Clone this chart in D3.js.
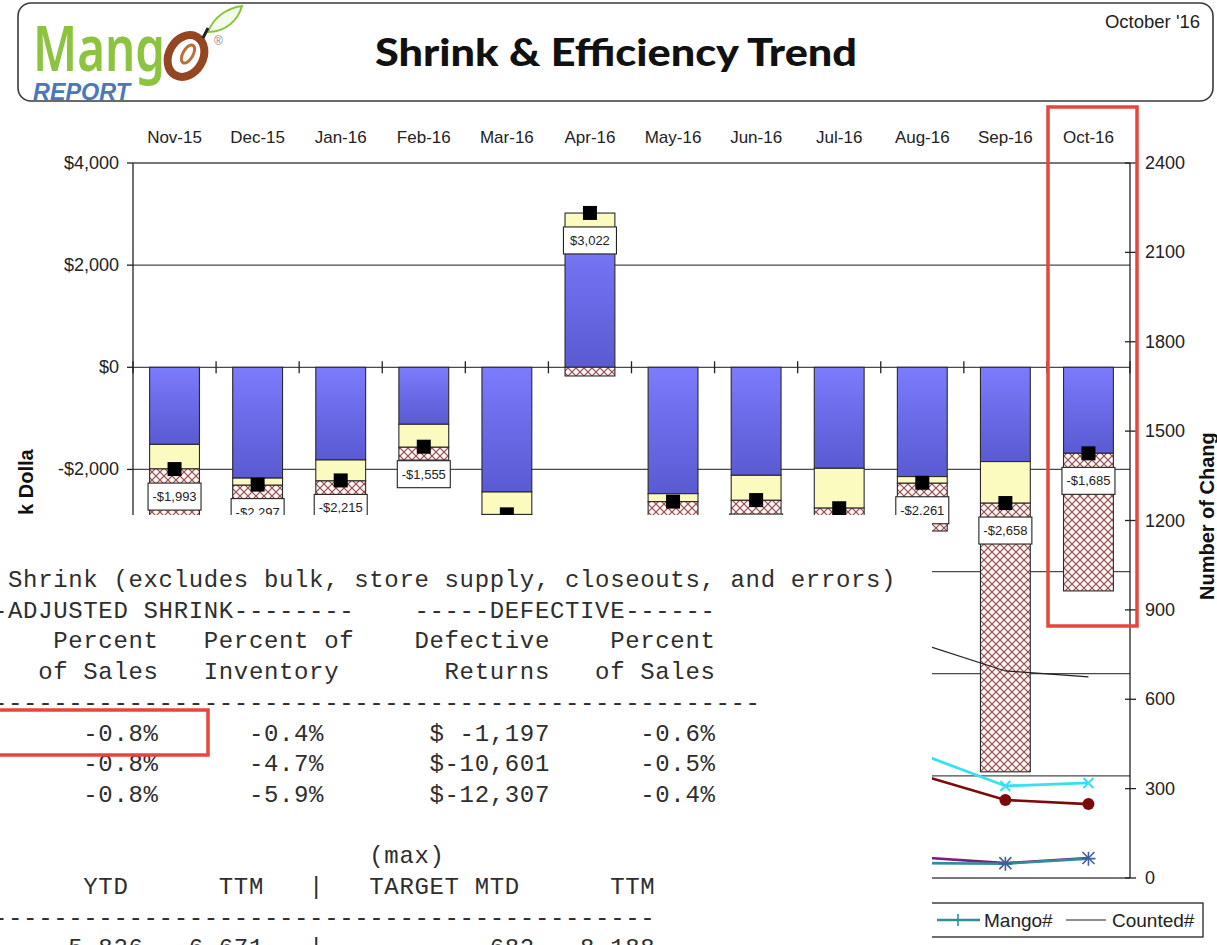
<!DOCTYPE html>
<html>
<head>
<meta charset="utf-8">
<style>
  body { margin: 0; background: #fff; }
  svg { display: block; font-family: Arial, "Liberation Sans", sans-serif; }
</style>
</head>
<body>
<svg width="1217" height="945"></svg>
<script src="https://d3js.org/d3.v7.min.js"></script>
<script>
// ---- data ----
var months = ["Nov-15", "Dec-15", "Jan-16", "Feb-16", "Mar-16", "Apr-16",
              "May-16", "Jun-16", "Jul-16", "Aug-16", "Sep-16", "Oct-16"];

// stacked shrink dollars (left axis)
var blueVals   = [-1510, -2170, -1815, -1116, -2442, 2720, -2475, -2115, -1978, -2140, -1846, -1684];
var yellowVals = [-480, -140, -410, -450, -440, 300, -155, -490, -780, -131, -815, 0];
var hatchVals  = [-1400, -1200, -1100, -250, -1500, -170, -1300, -1200, -1000, -935, -5260, -2695];
var netVals    = [-1993, -2297, -2215, -1555, -2880, 3022, -2630, -2600, -2760, -2261, -2658, -1685];

// counts (right axis)
var countedNum = [905, 890, 870, 860, 850, 840, 830, 815, 800, 785, 695, 675];
var cyanNum    = [520, 505, 490, 480, 470, 460, 450, 440, 425, 414, 309, 319];
var redNum     = [420, 410, 400, 395, 390, 380, 370, 362, 352, 344, 262, 248];
var purpleNum  = [95, 90, 88, 85, 82, 80, 78, 75, 72, 69, 50, 67];
var mangoNum   = [70, 68, 66, 64, 62, 60, 58, 56, 53, 50, 48, 65];

var leftTicks  = [4000, 2000, 0, -2000, -4000, -6000, -8000, -10000];
var rightTicks = [0, 300, 600, 900, 1200, 1500, 1800, 2100, 2400];

var reportLines = [
  " Shrink (excludes bulk, store supply, closeouts, and errors)",
  "-ADJUSTED SHRINK--------    -----DEFECTIVE------",
  "    Percent   Percent of    Defective    Percent",
  "   of Sales   Inventory       Returns   of Sales",
  "---------------------------------------------------",
  "      -0.8%      -0.4%       $ -1,197      -0.6%",
  "      -0.8%      -4.7%       $-10,601      -0.5%",
  "      -0.8%      -5.9%       $-12,307      -0.4%",
  "",
  "                         (max)",
  "      YTD      TTM   |   TARGET MTD      TTM",
  "--------------------------------------------",
  "     5,826   6,671   |           682   8,188"
];

// ---- setup ----
var svg = d3.select("svg");
var defs = svg.append("defs");

var fmt = d3.formatLocale({decimal: ".", thousands: ",", grouping: [3], currency: ["$", ""], minus: "-"}).format("$,.0f");

var x = d3.scaleBand().domain(months).range([133, 1130]).paddingInner(0.4).paddingOuter(0.2);
var yL = d3.scaleLinear().domain([-10000, 4000]).range([878, 163]);
var yR = d3.scaleLinear().domain([0, 2400]).range([878, 163]);
var step = x.step();

var blueGrad = defs.append("linearGradient").attr("id", "blueGrad")
  .attr("x1", 0).attr("y1", 0).attr("x2", 0).attr("y2", 1);
blueGrad.append("stop").attr("offset", "0%").attr("stop-color", "#7b7bfd");
blueGrad.append("stop").attr("offset", "100%").attr("stop-color", "#5a5ad2");

var hatch = defs.append("pattern").attr("id", "hatch")
  .attr("width", 8).attr("height", 8).attr("patternUnits", "userSpaceOnUse");
hatch.append("rect").attr("width", 8).attr("height", 8).attr("fill", "#fff3f3");
hatch.append("path").attr("d", "M-1,-1L9,9M9,-1L-1,9")
  .attr("stroke", "#8e4a4a").attr("stroke-width", 1.1);

defs.append("clipPath").attr("id", "clipL").append("rect")
  .attr("x", 0).attr("y", 449).attr("width", 60).attr("height", 500);
defs.append("clipPath").attr("id", "clipR").append("rect")
  .attr("x", 1180).attr("y", 432).attr("width", 40).attr("height", 300);

// ---- header ----
svg.append("rect").attr("x", 18).attr("y", 3).attr("width", 1195).attr("height", 98)
  .attr("rx", 13).attr("fill", "#fff").attr("stroke", "#3a3a3a").attr("stroke-width", 1.6);

var logo = svg.append("g");
logo.append("text").attr("x", 33).attr("y", 71).text("Mang")
  .attr("font-family", "Noto Sans").attr("font-weight", 600).attr("font-size", 64)
  .attr("textLength", 132).attr("lengthAdjust", "spacingAndGlyphs")
  .attr("fill", "#8cc43f");
logo.append("ellipse").attr("cx", 186).attr("cy", 56).attr("rx", 17).attr("ry", 22)
  .attr("transform", "rotate(30,186,56)")
  .attr("fill", "none").attr("stroke", "#93461f").attr("stroke-width", 8);
logo.append("ellipse").attr("cx", 188).attr("cy", 54).attr("rx", 5).attr("ry", 10)
  .attr("transform", "rotate(30,188,54)")
  .attr("fill", "none").attr("stroke", "#b8703c").attr("stroke-width", 3);
logo.append("path").attr("d", "M208,32 C214,16 228,8 242,6 C238,20 226,32 208,32 Z")
  .attr("fill", "#f3faea").attr("stroke", "#8cc43f").attr("stroke-width", 2);
logo.append("path").attr("d", "M203,38 L208,28").attr("stroke", "#222").attr("stroke-width", 3);
logo.append("text").attr("x", 214).attr("y", 45).text("®")
  .attr("font-size", 12).attr("fill", "#888");
logo.append("text").attr("x", 33).attr("y", 100).text("REPORT")
  .attr("font-size", 23).attr("font-weight", "bold").attr("font-style", "italic")
  .attr("textLength", 97).attr("lengthAdjust", "spacingAndGlyphs")
  .attr("fill", "#4a78b8");

svg.append("text").attr("x", 375).attr("y", 66).text("Shrink & Efficiency Trend")
  .attr("font-family", "Lato").attr("font-weight", 900).attr("font-size", 38)
  .attr("textLength", 482).attr("lengthAdjust", "spacingAndGlyphs").attr("fill", "#111");

svg.append("text").attr("x", 1200).attr("y", 28).attr("text-anchor", "end")
  .text("October '16").attr("font-size", 18.5).attr("fill", "#222");

// ---- plot ----
var plot = svg.append("g");

plot.selectAll(".grid").data(leftTicks).enter().append("line")
  .attr("x1", 133).attr("x2", 1130)
  .attr("y1", function(d) { return yL(d); }).attr("y2", function(d) { return yL(d); })
  .attr("stroke", "#4a4a4a").attr("stroke-width", 1.3);

// category ticks on the $0 line
plot.selectAll(".ctick").data(d3.range(months.length + 1)).enter().append("line")
  .attr("x1", function(i) { return 133 + i * step; }).attr("x2", function(i) { return 133 + i * step; })
  .attr("y1", yL(0) - 6).attr("y2", yL(0) + 6)
  .attr("stroke", "#222").attr("stroke-width", 1.3);

// axes
plot.append("line").attr("x1", 133).attr("x2", 133).attr("y1", 163).attr("y2", 878)
  .attr("stroke", "#222").attr("stroke-width", 1.3);
plot.append("line").attr("x1", 1130).attr("x2", 1130).attr("y1", 163).attr("y2", 878)
  .attr("stroke", "#222").attr("stroke-width", 1.3);

plot.selectAll(".ltick").data(leftTicks).enter().append("line")
  .attr("x1", 127).attr("x2", 133)
  .attr("y1", function(d) { return yL(d); }).attr("y2", function(d) { return yL(d); })
  .attr("stroke", "#222").attr("stroke-width", 1.3);
plot.selectAll(".llab").data(leftTicks).enter().append("text")
  .attr("x", 119).attr("y", function(d) { return yL(d) + 6; })
  .attr("text-anchor", "end").attr("font-size", 18).attr("fill", "#222")
  .text(function(d) { return fmt(d); });

plot.selectAll(".rtick").data(rightTicks).enter().append("line")
  .attr("x1", 1125).attr("x2", 1136)
  .attr("y1", function(d) { return yR(d); }).attr("y2", function(d) { return yR(d); })
  .attr("stroke", "#222").attr("stroke-width", 1.3);
plot.selectAll(".rlab").data(rightTicks).enter().append("text")
  .attr("x", 1145).attr("y", function(d) { return yR(d) + 6; })
  .attr("font-size", 18).attr("fill", "#222")
  .text(function(d) { return d; });

plot.selectAll(".cat").data(months).enter().append("text")
  .attr("x", function(d) { return x(d) + x.bandwidth() / 2; }).attr("y", 143)
  .attr("text-anchor", "middle").attr("font-size", 17).attr("fill", "#222")
  .text(function(d) { return d; });

// stacked bars
var stacks = months.map(function(m, i) {
  var pos = 0, neg = 0, segs = [];
  [["blue", blueVals[i]], ["yellow", yellowVals[i]], ["hatch", hatchVals[i]]].forEach(function(p) {
    var v = p[1];
    if (v === 0) return;
    if (v > 0) { segs.push({k: p[0], a: pos, b: pos + v}); pos += v; }
    else { segs.push({k: p[0], a: neg, b: neg + v}); neg += v; }
  });
  return {m: m, segs: segs};
});
var fills = {blue: "url(#blueGrad)", yellow: "#fbfbbf", hatch: "url(#hatch)"};

var barG = plot.selectAll(".bar").data(stacks).enter().append("g");
barG.selectAll("rect").data(function(d) { return d.segs.map(function(s) { s.m = d.m; return s; }); })
  .enter().append("rect")
  .attr("x", function(s) { return x(s.m); })
  .attr("width", x.bandwidth())
  .attr("y", function(s) { return Math.min(yL(s.a), yL(s.b)); })
  .attr("height", function(s) { return Math.abs(yL(s.a) - yL(s.b)); })
  .attr("fill", function(s) { return fills[s.k]; })
  .attr("stroke", "#2a2a2a").attr("stroke-width", 1.1);

// count lines (right axis)
function cx(i) { return x(months[i]) + x.bandwidth() / 2; }
function drawLine(vals, color, width) {
  var line = d3.line()
    .x(function(d, i) { return cx(i); })
    .y(function(d) { return yR(d); });
  plot.append("path").datum(vals).attr("d", line)
    .attr("fill", "none").attr("stroke", color).attr("stroke-width", width);
}
drawLine(countedNum, "#222", 1.2);
drawLine(redNum, "#7d0a0a", 2.6);
drawLine(cyanNum, "#36e0f2", 2.8);
drawLine(purpleNum, "#7d1a86", 2.6);
drawLine(mangoNum, "#2f8e9a", 2.6);

plot.selectAll(".rdot").data(redNum).enter().append("circle")
  .attr("cx", function(d, i) { return cx(i); }).attr("cy", function(d) { return yR(d); })
  .attr("r", 6).attr("fill", "#7d0a0a");
plot.selectAll(".cx").data(cyanNum).enter().append("path")
  .attr("transform", function(d, i) { return "translate(" + cx(i) + "," + yR(d) + ")"; })
  .attr("d", "M-5,-5L5,5M5,-5L-5,5").attr("stroke", "#36e0f2").attr("stroke-width", 2);
plot.selectAll(".px").data(purpleNum).enter().append("path")
  .attr("transform", function(d, i) { return "translate(" + cx(i) + "," + yR(d) + ")"; })
  .attr("d", "M-6,-6L6,6M6,-6L-6,6").attr("stroke", "#3e5f9a").attr("stroke-width", 1.6);
plot.selectAll(".mx").data(mangoNum).enter().append("path")
  .attr("transform", function(d, i) { return "translate(" + cx(i) + "," + yR(d) + ")"; })
  .attr("d", "M-7,0L7,0M0,-7L0,7").attr("stroke", "#3e5f9a").attr("stroke-width", 1.6);

// net markers and labels
plot.selectAll(".net").data(netVals).enter().append("rect")
  .attr("x", function(d, i) { return cx(i) - 7; })
  .attr("y", function(d) { return yL(d) - 7; })
  .attr("width", 14).attr("height", 14).attr("fill", "#000");
var lab = plot.selectAll(".lab").data(netVals).enter().append("g")
  .attr("transform", function(d, i) { return "translate(" + cx(i) + "," + (yL(d) + 14) + ")"; });
lab.append("rect").attr("x", -26.5).attr("y", 0).attr("width", 53).attr("height", 27)
  .attr("fill", "#fff").attr("stroke", "#222").attr("stroke-width", 1.1);
lab.append("text").attr("y", 18).attr("text-anchor", "middle")
  .attr("font-size", 13).attr("fill", "#222")
  .text(function(d) { return fmt(d); });

// axis titles (clipped as in the picture)
svg.append("g").attr("clip-path", "url(#clipL)")
  .append("text")
  .attr("transform", "translate(33,566) rotate(-90)")
  .attr("font-size", 20).attr("font-weight", "bold").attr("fill", "#111")
  .text("Shrink Dollars");
svg.append("g").attr("clip-path", "url(#clipR)")
  .append("text")
  .attr("transform", "translate(1214,600) rotate(-90)")
  .attr("font-size", 20).attr("font-weight", "bold").attr("fill", "#111")
  .text("Number of Changes");

// legend
var leg = svg.append("g");
leg.append("rect").attr("x", 700).attr("y", 903).attr("width", 503).attr("height", 34)
  .attr("fill", "#fff").attr("stroke", "#222").attr("stroke-width", 1.3);
leg.append("line").attr("x1", 937).attr("x2", 980).attr("y1", 920).attr("y2", 920)
  .attr("stroke", "#2f8e9a").attr("stroke-width", 2.4);
leg.append("path").attr("d", "M958,914L958,926").attr("stroke", "#2f8e9a").attr("stroke-width", 1.6);
leg.append("text").attr("x", 984).attr("y", 927).attr("font-size", 19).attr("fill", "#222").text("Mango#");
leg.append("line").attr("x1", 1066).attr("x2", 1106).attr("y1", 920).attr("y2", 920)
  .attr("stroke", "#222").attr("stroke-width", 1.2);
leg.append("text").attr("x", 1112).attr("y", 927).attr("font-size", 19).attr("fill", "#222").text("Counted#");

// ---- report text overlay ----
var over = svg.append("g");
over.append("rect").attr("x", 0).attr("y", 515).attr("width", 932).attr("height", 430).attr("fill", "#fff");
over.selectAll("text").data(reportLines).enter().append("text")
  .attr("x", -7).attr("y", function(d, i) { return 587 + i * 30.7; })
  .attr("font-family", "Liberation Mono, monospace").attr("font-size", 24)
  .attr("letter-spacing", 0.65)
  .attr("fill", "#2e2e2e").style("white-space", "pre")
  .text(function(d) { return d; });

// ---- highlight boxes ----
svg.append("rect").attr("x", 1048).attr("y", 107).attr("width", 89).attr("height", 519)
  .attr("fill", "none").attr("stroke", "#e8453e").attr("stroke-width", 3.5);
svg.append("rect").attr("x", -5).attr("y", 710).attr("width", 213).attr("height", 45)
  .attr("fill", "none").attr("stroke", "#e8453e").attr("stroke-width", 3.5);
</script>
</body>
</html>
